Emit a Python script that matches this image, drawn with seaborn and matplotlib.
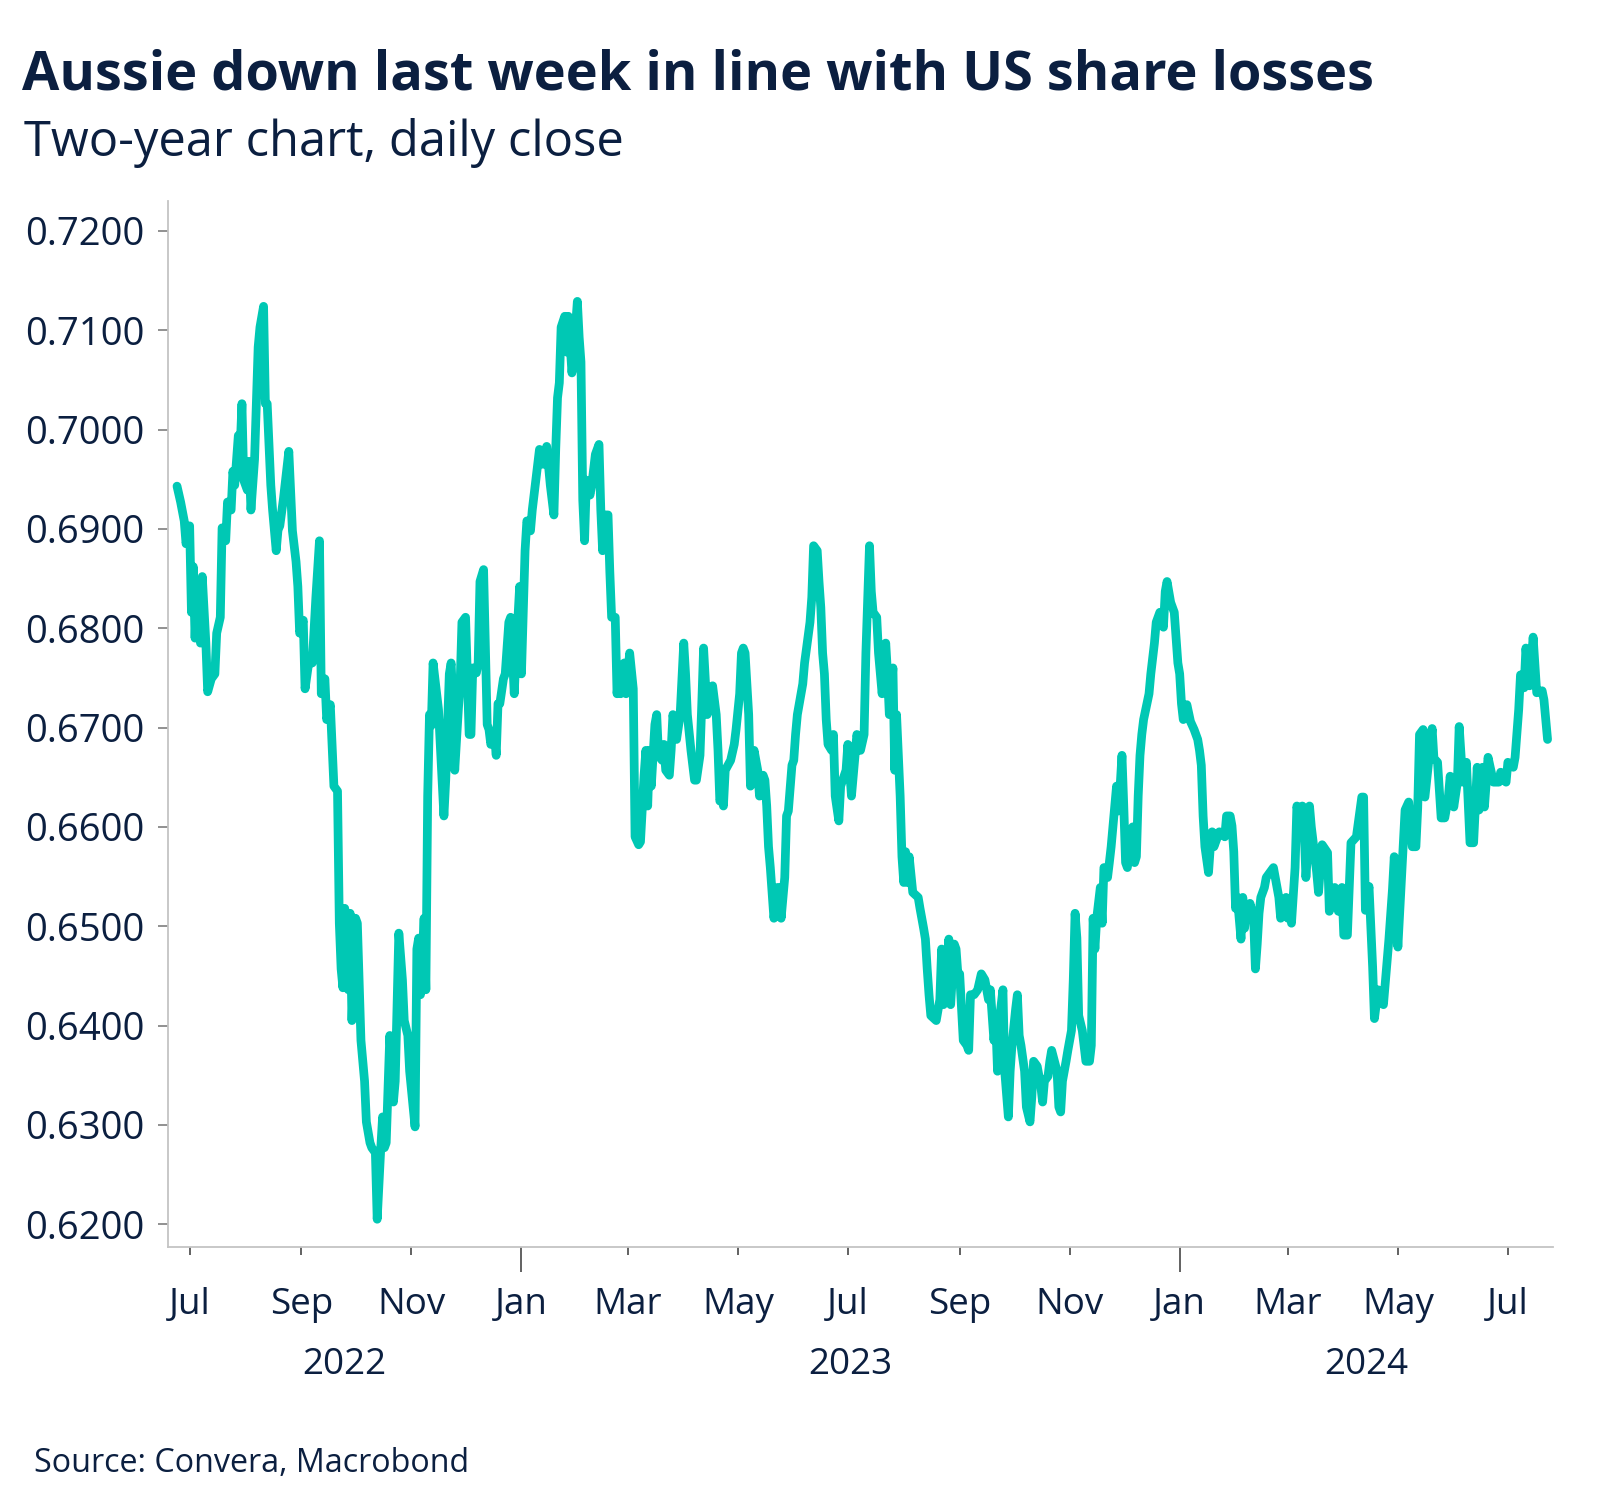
import pandas as pd
import numpy as np
import matplotlib
matplotlib.use("Agg")
import matplotlib.pyplot as plt
import matplotlib.dates as mdates
import matplotlib.transforms as mtransforms
import seaborn as sns

# Data: days since 1 Jul 2022 and AUD/USD close
day_offset = [
    -7, -5, -3, -2, 0, 1, 2, 3, 4, 6, 7, 9, 10, 12, 14, 15, 17, 18, 20, 21,
    23, 24, 25, 27, 28, 29, 30, 32, 33, 34, 36, 38, 39, 41, 42, 43, 45, 46, 48, 49,
    50, 52, 55, 57, 59, 60, 61, 63, 64, 66, 68, 70, 72, 73, 75, 76, 78, 79, 80, 82,
    83, 84, 85, 86, 88, 89, 90, 92, 93, 95, 97, 98, 100, 101, 103, 104, 106, 107, 108, 109,
    111, 113, 114, 116, 118, 119, 121, 122, 125, 126, 127, 128, 130, 131, 132, 133, 134, 135, 137, 138,
    139, 141, 142, 144, 145, 146, 147, 149, 150, 151, 153, 155, 156, 157, 159, 160, 161, 163, 165, 166,
    167, 169, 170, 171, 172, 174, 175, 177, 178, 180, 181, 183, 184,
    186, 187, 189, 190, 193, 194, 196, 198, 200, 202, 203, 204, 205, 206, 208, 209, 210, 212, 213, 215,
    216, 217, 218, 219, 220, 222, 223, 225, 227, 228, 229, 230, 232, 233, 234, 236, 237, 238, 239, 241,
    242, 243, 244, 246, 247, 249, 250, 252, 253, 254, 255, 256, 258, 259, 260, 262, 263, 264, 266, 267,
    268, 270, 272, 274, 275, 276, 278, 280, 281, 283, 284, 285, 287, 289, 290, 292, 293, 294, 295, 296,
    297, 300, 302, 303, 305, 306, 307, 308, 310, 311, 313, 315, 316, 318, 319, 320, 321, 322, 323, 324,
    326, 327, 328, 330, 331, 332, 334, 335, 336, 337, 339, 340, 341, 344, 345, 346, 348, 349, 350, 351,
    352, 353, 354, 356, 357, 358, 360, 361, 364, 365, 367, 368, 370, 372, 374, 375, 377, 378, 379, 381,
    382, 383, 384, 386, 387, 388, 390, 391, 392, 394, 395, 396, 397, 398, 399, 401, 404, 405, 407, 408,
    409, 410, 411, 414, 416, 417, 418, 421, 422, 424, 425, 426, 427, 429, 431, 432, 433, 435, 437, 439,
    441, 443, 444, 446, 447, 448, 449, 451, 452, 454, 455, 456, 458, 459, 460, 461, 463, 464, 466, 467,
    468, 470, 472, 473, 474, 476, 477, 478, 481, 482, 483, 484, 486, 487, 489, 490, 491, 492, 493, 495,
    497, 499, 500, 501, 502, 503, 505, 506, 507, 509, 510, 511, 512, 514, 515, 516, 517, 518, 519, 520,
    521, 523, 524, 525, 526, 527, 528, 529, 532, 533, 535, 536, 538, 540, 541, 542, 544, 546, 548, 549,
    550, 551, 553, 555, 557, 559, 560, 561, 562, 563, 565, 566, 567, 568, 571, 574, 575, 577, 578, 579,
    580, 581, 583, 584, 585, 586, 587, 588, 590, 591, 592, 593, 594, 596, 597, 601, 602, 603, 604, 605,
    608, 609, 610, 611, 613, 614, 615, 617, 618, 619, 620, 621, 622, 623, 625, 626, 628, 631, 632, 635,
    637, 639, 640, 642, 644, 647, 650, 651, 652, 654, 656, 657, 659, 662, 665, 667, 668, 670, 674, 676,
    678, 680, 681, 682, 684, 685, 689, 690, 692, 694, 696, 698, 699, 701, 703, 704, 706, 708, 710, 712,
    714, 715, 717, 718, 720, 723, 726, 727, 730, 731, 734, 735, 737, 738, 740, 741, 743, 745, 747, 750,
    751, 753,
]

aud_usd = [
    0.6943, 0.6927, 0.6908, 0.6885, 0.6903, 0.6816, 0.6862, 0.6790, 0.6842, 0.6785, 0.6852, 0.6785, 0.6736, 0.6749, 0.6754, 0.6795, 0.6811, 0.6901, 0.6888, 0.6927,
    0.6919, 0.6958, 0.6944, 0.6994, 0.6980, 0.7026, 0.6949, 0.6939, 0.6968, 0.6919, 0.6970, 0.7083, 0.7103, 0.7124, 0.7026, 0.7026, 0.6944, 0.6919, 0.6878, 0.6899,
    0.6903, 0.6930, 0.6978, 0.6898, 0.6867, 0.6842, 0.6795, 0.6808, 0.6739, 0.6765, 0.6765, 0.6831, 0.6888, 0.6734, 0.6749, 0.6708, 0.6723, 0.6683, 0.6641, 0.6636,
    0.6503, 0.6457, 0.6438, 0.6518, 0.6436, 0.6513, 0.6405, 0.6508, 0.6503, 0.6385, 0.6344, 0.6303, 0.6282, 0.6277, 0.6272, 0.6205, 0.6277, 0.6308, 0.6277, 0.6282,
    0.6390, 0.6323, 0.6344, 0.6493, 0.6446, 0.6405, 0.6390, 0.6354, 0.6298, 0.6477, 0.6488, 0.6431, 0.6508, 0.6436, 0.6631, 0.6713, 0.6702, 0.6765, 0.6734, 0.6718,
    0.6683, 0.6611, 0.6647, 0.6754, 0.6765, 0.6724, 0.6657, 0.6718, 0.6744, 0.6806, 0.6811, 0.6693, 0.6693, 0.6760, 0.6755, 0.6765, 0.6847, 0.6859, 0.6703, 0.6698,
    0.6683, 0.6693, 0.6672, 0.6724, 0.6724, 0.6749, 0.6754, 0.6806, 0.6811, 0.6734, 0.6775, 0.6842, 0.6754,
    0.6878, 0.6908, 0.6898, 0.6919, 0.6965, 0.6980, 0.6965, 0.6983, 0.6944, 0.6914, 0.6980, 0.7032, 0.7047, 0.7103, 0.7114, 0.7078, 0.7114, 0.7057, 0.7078, 0.7129,
    0.7093, 0.7068, 0.6929, 0.6888, 0.6949, 0.6934, 0.6944, 0.6975, 0.6985, 0.6919, 0.6878, 0.6914, 0.6914, 0.6857, 0.6811, 0.6811, 0.6734, 0.6754, 0.6734, 0.6765,
    0.6734, 0.6754, 0.6775, 0.6739, 0.6590, 0.6582, 0.6585, 0.6652, 0.6677, 0.6621, 0.6677, 0.6641, 0.6703, 0.6713, 0.6672, 0.6667, 0.6683, 0.6657, 0.6652, 0.6677,
    0.6713, 0.6688, 0.6713, 0.6785, 0.6754, 0.6713, 0.6677, 0.6647, 0.6647, 0.6672, 0.6724, 0.6780, 0.6713, 0.6724, 0.6742, 0.6713, 0.6677, 0.6626, 0.6631, 0.6621,
    0.6657, 0.6667, 0.6683, 0.6698, 0.6734, 0.6775, 0.6780, 0.6775, 0.6713, 0.6641, 0.6677, 0.6657, 0.6631, 0.6652, 0.6647, 0.6621, 0.6580, 0.6559, 0.6534, 0.6508,
    0.6539, 0.6539, 0.6508, 0.6549, 0.6611, 0.6616, 0.6662, 0.6667, 0.6693, 0.6713, 0.6734, 0.6744, 0.6765, 0.6806, 0.6831, 0.6883, 0.6878, 0.6847, 0.6821, 0.6775,
    0.6754, 0.6708, 0.6683, 0.6677, 0.6693, 0.6631, 0.6606, 0.6641, 0.6657, 0.6683, 0.6631, 0.6652, 0.6693, 0.6677, 0.6693, 0.6775, 0.6883, 0.6837, 0.6816, 0.6811,
    0.6775, 0.6754, 0.6734, 0.6785, 0.6754, 0.6713, 0.6760, 0.6657, 0.6713, 0.6631, 0.6570, 0.6544, 0.6575, 0.6544, 0.6570, 0.6534, 0.6529, 0.6518, 0.6498, 0.6487,
    0.6457, 0.6431, 0.6410, 0.6405, 0.6426, 0.6477, 0.6421, 0.6487, 0.6421, 0.6482, 0.6477, 0.6452, 0.6452, 0.6385, 0.6380, 0.6375, 0.6431, 0.6431, 0.6436, 0.6452,
    0.6446, 0.6426, 0.6436, 0.6385, 0.6405, 0.6354, 0.6405, 0.6436, 0.6354, 0.6308, 0.6354, 0.6380, 0.6416, 0.6431, 0.6390, 0.6380, 0.6354, 0.6318, 0.6303, 0.6328,
    0.6364, 0.6359, 0.6339, 0.6323, 0.6344, 0.6349, 0.6364, 0.6375, 0.6354, 0.6318, 0.6313, 0.6344, 0.6364, 0.6375, 0.6395, 0.6446, 0.6513, 0.6488, 0.6410, 0.6395,
    0.6364, 0.6364, 0.6380, 0.6508, 0.6477, 0.6508, 0.6539, 0.6503, 0.6559, 0.6549, 0.6564, 0.6580, 0.6600, 0.6641, 0.6616, 0.6641, 0.6672, 0.6621, 0.6564, 0.6559,
    0.6585, 0.6600, 0.6564, 0.6570, 0.6631, 0.6672, 0.6693, 0.6708, 0.6734, 0.6754, 0.6785, 0.6806, 0.6816, 0.6801, 0.6837, 0.6847, 0.6826, 0.6816, 0.6765, 0.6754,
    0.6724, 0.6708, 0.6723, 0.6706, 0.6698, 0.6688, 0.6677, 0.6662, 0.6611, 0.6580, 0.6554, 0.6580, 0.6595, 0.6580, 0.6595, 0.6590, 0.6611, 0.6611, 0.6601, 0.6575,
    0.6518, 0.6529, 0.6487, 0.6529, 0.6498, 0.6518, 0.6508, 0.6523, 0.6508, 0.6457, 0.6482, 0.6513, 0.6529, 0.6539, 0.6549, 0.6559, 0.6549, 0.6539, 0.6529, 0.6508,
    0.6529, 0.6508, 0.6523, 0.6503, 0.6559, 0.6621, 0.6611, 0.6621, 0.6600, 0.6549, 0.6575, 0.6621, 0.6600, 0.6585, 0.6554, 0.6534, 0.6582, 0.6574, 0.6515, 0.6539,
    0.6515, 0.6539, 0.6491, 0.6491, 0.6584, 0.6590, 0.6630, 0.6630, 0.6516, 0.6540, 0.6459, 0.6407, 0.6436, 0.6421, 0.6486, 0.6537, 0.6570, 0.6479, 0.6617, 0.6625,
    0.6580, 0.6580, 0.6619, 0.6693, 0.6698, 0.6630, 0.6699, 0.6669, 0.6665, 0.6609, 0.6609, 0.6630, 0.6651, 0.6620, 0.6645, 0.6701, 0.6645, 0.6665, 0.6584, 0.6584,
    0.6660, 0.6617, 0.6660, 0.6620, 0.6670, 0.6645, 0.6645, 0.6655, 0.6645, 0.6665, 0.6660, 0.6670, 0.6718, 0.6753, 0.6740, 0.6780, 0.6742, 0.6791, 0.6735, 0.6737,
    0.6728, 0.6688,
]

year_labels = ["2022", "2023", "2024"]
title = "Aussie down last week in line with US share losses"
subtitle = "Two-year chart, daily close"
source = "Source: Convera, Macrobond"

navy = "#0b1f40"
teal = "#00c8b4"

df = pd.DataFrame({
    "date": pd.Timestamp("2022-07-01") + pd.to_timedelta(day_offset, unit="D"),
    "rate": aud_usd,
})

sns.set_theme(style="white")
plt.rcParams["font.family"] = ["Open Sans", "DejaVu Sans"]

fig = plt.figure(figsize=(16, 14.86), dpi=100)
ax = fig.add_axes([0.105, 0.1608, 0.8656, 0.7039])

sns.lineplot(data=df, x="date", y="rate", color=teal, linewidth=6.3, ax=ax)

ax.set_xlim(pd.Timestamp("2022-06-19"), pd.Timestamp("2024-07-26"))
ax.set_ylim(0.6177, 0.7230)
ax.set_yticks(np.arange(0.62, 0.7201, 0.01))
ax.yaxis.set_major_formatter(matplotlib.ticker.FormatStrFormatter("%.4f"))

ax.xaxis.set_major_locator(mdates.MonthLocator(bymonth=[1, 3, 5, 7, 9, 11]))
ax.xaxis.set_major_formatter(mdates.DateFormatter("%b"))
ax.set_xlabel("")
ax.set_ylabel("")

for side in ["top", "right"]:
    ax.spines[side].set_visible(False)
for side in ["left", "bottom"]:
    ax.spines[side].set_color("#c4c4c4")
    ax.spines[side].set_linewidth(1.3)

ax.tick_params(axis="y", which="major", left=True, length=7, width=1.3,
               color="#888888", labelsize=27.5, labelcolor=navy, pad=10)
ax.tick_params(axis="x", which="major", bottom=True, length=6, width=1.3,
               color="#555555", labelsize=26.5, labelcolor=navy, pad=23)

# January ticks are drawn longer
for tick, loc in zip(ax.xaxis.get_major_ticks(), ax.xaxis.get_majorticklocs()):
    if mdates.num2date(loc).month == 1:
        tick.tick1line.set_markersize(18)

# year labels centred under each year's visible span
trans = mtransforms.blended_transform_factory(ax.transData, ax.transAxes)
spans = [("2022-06-19", "2023-01-01"), ("2023-01-01", "2024-01-01"), ("2024-01-01", "2024-07-26")]
for label, (a, b) in zip(year_labels, spans):
    mid = mdates.date2num(pd.Timestamp(a)) / 2 + mdates.date2num(pd.Timestamp(b)) / 2
    ax.text(mid, -0.121, label, transform=trans, ha="center", va="baseline",
            fontsize=26.5, color=navy)

fig.text(0.014, 0.9396, title, fontsize=39, fontweight="bold", color=navy, va="baseline")
fig.text(0.015, 0.895, subtitle, fontsize=35.2, color=navy, va="baseline")
fig.text(0.021, 0.0095, source, fontsize=23.2, color=navy, va="baseline")

fig.savefig("out.png", dpi=100)
